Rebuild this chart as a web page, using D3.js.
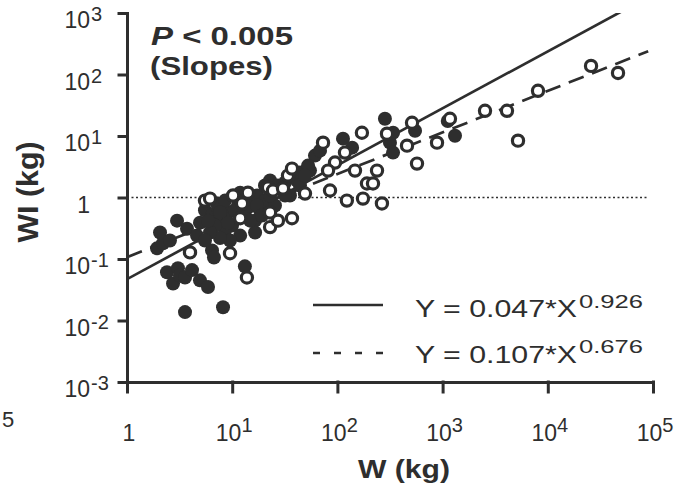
<!DOCTYPE html>
<html>
<head>
<meta charset="utf-8">
<script src="https://cdn.jsdelivr.net/npm/d3@7"></script>
<style>
  body { margin: 0; background: #fff; }
</style>
</head>
<body>
<div id="chart"></div>
<script>
// tick values and labels (superscript exponents)
const xTicks = [1, 1e1, 1e2, 1e3, 1e4, 1e5];
const xTickExp = ["", "1", "2", "3", "4", "5"];
const yTicks = [1e3, 1e2, 1e1, 1, 1e-1, 1e-2, 1e-3];
const yTickExp = ["3", "2", "1", "", "-1", "-2", "-3"];

// [W (kg), WI (kg)]
const filledPts = [
  [2.4, 0.061], [2.74, 0.04], [3.05, 0.071], [3.19, 0.054], [3.56, 0.05],
  [4.15, 0.066], [4.94, 0.045], [5.89, 0.035], [3.56, 0.0137], [8.18, 0.0164],
  [1.93, 0.149], [2.2, 0.18], [2.06, 0.27], [2.56, 0.2], [2.99, 0.42],
  [3.72, 0.31], [4.63, 0.24], [6.43, 0.138], [6.71, 0.106], [13.2, 0.076],
  [5.51, 0.62], [6.43, 0.51], [7.33, 0.66], [8.0, 0.42], [9.12, 0.57],
  [9.96, 0.35], [11.4, 0.74], [8.55, 0.29], [6.87, 0.35], [13.2, 0.51],
  [14.8, 0.74], [16.5, 0.42], [18.4, 0.62], [19.2, 0.89], [11.9, 0.24],
  [9.53, 0.2], [7.66, 0.22], [6.15, 0.27], [4.94, 0.39], [5.51, 0.2],
  [7.2, 0.8], [16.5, 0.27], [11.9, 1.2], [17.2, 1.08], [28.5, 1.4],
  [31.8, 1.75], [41.3, 1.89], [54.9, 2.74], [20.5, 0.89], [25.5, 0.74],
  [35.4, 1.08], [22.9, 1.89], [20.5, 1.57], [44.1, 2.54], [61.2, 4.8],
  [52.6, 3.3], [68.4, 5.78], [113, 9.05], [138, 6.47], [283, 19.1],
  [316, 7.8], [338, 5.37], [338, 11.3], [547, 12.2], [1312, 10.1],
  [1120, 17.5], [8.55, 0.89], [10.6, 0.62], [14.8, 0.42], [13.2, 0.89],
  [7.66, 0.57], [5.89, 0.42], [9.12, 0.39], [17.2, 0.74], [19.2, 0.51],
  [22.9, 1.08], [31.8, 1.08], [27.2, 1.57], [44.1, 1.57], [49.2, 2.27]
];
const openPts = [
  [3.97, 0.128], [9.53, 0.124], [13.8, 0.05], [5.51, 0.89], [6.15, 0.96],
  [10.2, 1.08], [14.1, 1.2], [12.4, 0.8], [11.9, 0.46], [21.9, 1.45],
  [24.4, 1.3], [22.9, 0.57], [22.9, 0.33], [27.2, 0.42], [37.0, 0.46],
  [33.9, 2.27], [37.0, 2.95], [49.2, 1.16], [30.4, 1.4], [73.0, 7.8],
  [118, 5.37], [94.9, 3.7], [81.5, 2.74], [147, 2.74], [238, 2.74],
  [191, 1.69], [218, 1.69], [85.1, 1.3], [123, 0.89], [175, 0.96],
  [265, 0.8], [171, 11.3], [296, 10.9], [512, 16.4], [459, 6.97],
  [571, 3.56], [885, 7.8], [1175, 19.1], [2530, 25.7], [4093, 25.7],
  [5210, 8.4], [8070, 54.3], [25760, 138], [46500, 106]
];

// fitted lines Y = a * X^b
const fitCoef = [0.047, 0.107];
const fitExp = [0.926, 0.676];
const fitEnd = [1e5, 9e4];
const fitLabel = ["Y = 0.047*X", "Y = 0.107*X"];
const fitLabelExp = ["0.926", "0.676"];

const width = 687, height = 496;
const ink = "#2e2e2e";
const font = "'Liberation Sans', Arial, Helvetica, sans-serif";

const svg = d3.select("#chart").append("svg")
    .attr("width", width)
    .attr("height", height)
    .style("font-family", font);

const x = d3.scaleLog().domain([1, 1e5]).range([127, 653]);
const y = d3.scaleLog().domain([1e-3, 1e3]).range([382, 13]);

svg.append("clipPath").attr("id", "plot")
  .append("rect")
    .attr("x", x(1)).attr("y", y(1e3))
    .attr("width", x(1e5) - x(1)).attr("height", y(1e-3) - y(1e3));

// dotted reference line at WI = 1
svg.append("line")
    .attr("x1", x(1)).attr("x2", x(9e4))
    .attr("y1", y(1)).attr("y2", y(1))
    .attr("stroke", ink)
    .attr("stroke-width", 1.4)
    .attr("stroke-dasharray", "2,2.5");

// regression lines
const fitLine = (i) => d3.line()
    .x(d => x(d))
    .y(d => y(fitCoef[i] * Math.pow(d, fitExp[i])));

fitCoef.forEach((a, i) => {
  svg.append("path")
      .datum([1, fitEnd[i]])
      .attr("clip-path", "url(#plot)")
      .attr("d", fitLine(i))
      .attr("fill", "none")
      .attr("stroke", ink)
      .attr("stroke-width", 2.7)
      .attr("stroke-dasharray", i === 1 ? "16,9" : null);
});

// points
svg.append("g").selectAll("circle")
    .data(filledPts)
    .join("circle")
    .attr("cx", d => x(d[0]))
    .attr("cy", d => y(d[1]))
    .attr("r", 7)
    .attr("fill", ink);

svg.append("g").selectAll("circle")
    .data(openPts)
    .join("circle")
    .attr("cx", d => x(d[0]))
    .attr("cy", d => y(d[1]))
    .attr("r", 5.6)
    .attr("fill", "#fff")
    .attr("stroke", ink)
    .attr("stroke-width", 3.2);

// axes
const xAxis = svg.append("g")
    .attr("transform", `translate(0,${y(1e-3)})`)
    .call(d3.axisBottom(x).tickValues(xTicks).tickSize(10).tickSizeOuter(0).tickFormat(""));
const yAxis = svg.append("g")
    .attr("transform", `translate(${x(1)},0)`)
    .call(d3.axisLeft(y).tickValues(yTicks).tickSize(8).tickSizeOuter(0).tickFormat(""));
[xAxis, yAxis].forEach(g => g.selectAll("path,line")
    .attr("stroke", ink)
    .attr("stroke-width", 3)
    .attr("stroke-linecap", "square"));

// x tick labels
xTicks.forEach((v, i) => {
  const t = svg.append("text")
      .attr("x", x(v) + 2)
      .attr("y", y(1e-3) + 59)
      .attr("text-anchor", "middle")
      .attr("fill", ink)
      .attr("font-size", 23);
  if (xTickExp[i] === "") {
    t.text("1");
  } else {
    t.append("tspan").text("10");
    t.append("tspan").attr("dy", -9).attr("font-size", 20).text(xTickExp[i]);
  }
});

// y tick labels
yTicks.forEach((v, i) => {
  svg.append("text")
      .attr("x", 90)
      .attr("y", y(v) + 15)
      .attr("text-anchor", "end")
      .attr("fill", ink)
      .attr("font-size", 23)
      .text(yTickExp[i] === "" ? "1" : "10");
  if (yTickExp[i] !== "") {
    svg.append("text")
        .attr("x", 91)
        .attr("y", y(v) + 8)
        .attr("fill", ink)
        .attr("font-size", 20)
        .text(yTickExp[i]);
  }
});

// axis titles
svg.append("text")
    .attr("transform", `translate(38,${192}) rotate(-90)`)
    .attr("text-anchor", "middle")
    .attr("font-weight", "bold")
    .attr("font-size", 29)
    .attr("fill", ink)
    .attr("textLength", 101)
    .attr("lengthAdjust", "spacingAndGlyphs")
    .text("WI (kg)");

svg.append("text")
    .attr("x", 358)
    .attr("y", 478)
    .attr("font-weight", "bold")
    .attr("font-size", 26)
    .attr("fill", ink)
    .attr("textLength", 92)
    .attr("lengthAdjust", "spacingAndGlyphs")
    .text("W (kg)");

// significance note
const pText = svg.append("text")
    .attr("x", 151)
    .attr("y", 45)
    .attr("font-weight", "bold")
    .attr("font-size", 25)
    .attr("fill", ink)
    .attr("textLength", 142)
    .attr("lengthAdjust", "spacingAndGlyphs");
pText.append("tspan").attr("font-style", "italic").text("P");
pText.append("tspan").text("  < 0.005");

svg.append("text")
    .attr("x", 150)
    .attr("y", 75)
    .attr("font-weight", "bold")
    .attr("font-size", 25)
    .attr("fill", ink)
    .attr("textLength", 123)
    .attr("lengthAdjust", "spacingAndGlyphs")
    .text("(Slopes)");

// legend
const legendY = [305, 353];
fitCoef.forEach((a, i) => {
  svg.append("line")
      .attr("x1", 313).attr("x2", 383)
      .attr("y1", legendY[i]).attr("y2", legendY[i])
      .attr("stroke", ink)
      .attr("stroke-width", 2.4)
      .attr("stroke-dasharray", i === 1 ? "7,14" : null);
  svg.append("text")
      .attr("x", 415)
      .attr("y", legendY[i] + 12 - i * 2)
      .attr("font-size", 24)
      .attr("fill", ink)
      .attr("textLength", 162)
      .attr("lengthAdjust", "spacingAndGlyphs")
      .text(fitLabel[i]);
  svg.append("text")
      .attr("x", 579)
      .attr("y", legendY[i] + 3 - i * 3)
      .attr("font-size", 19)
      .attr("fill", ink)
      .attr("textLength", 64)
      .attr("lengthAdjust", "spacingAndGlyphs")
      .text(fitLabelExp[i]);
});

// fragment of the neighbouring panel's tick label
svg.append("text")
    .attr("x", 2)
    .attr("y", 427)
    .attr("font-size", 22)
    .attr("fill", ink)
    .text("5");
</script>
</body>
</html>
